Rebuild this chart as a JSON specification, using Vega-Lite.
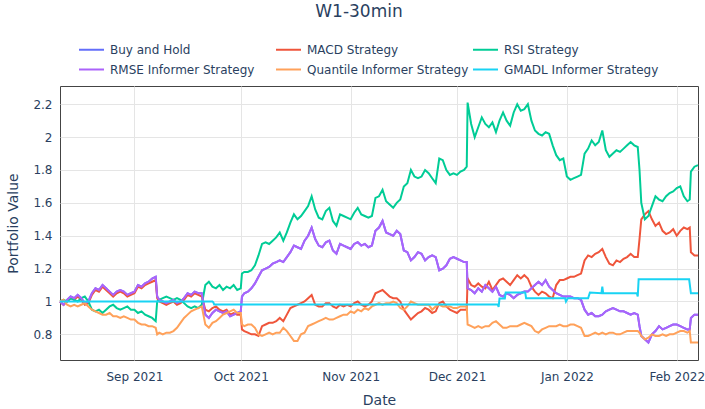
{
"$schema":"https://vega.github.io/schema/vega-lite/v6.json",
"width":638,"height":274,
"autosize":{"type":"none"},
"padding":{"left":60,"top":86,"right":7,"bottom":49},
"background":"white",
"title":{"text":"W1-30min","font":"DejaVu Sans","fontSize":17,"fontWeight":"normal","color":"#2a3f5f","anchor":"middle","frame":"group","dx":-20,"offset":2,"baseline":"alphabetic"},
"config":{
 "view":{"stroke":"#444","strokeWidth":1},
 "axis":{"labelFont":"DejaVu Sans","labelFontSize":12,"labelColor":"#2a3f5f","titleFont":"DejaVu Sans","titleFontSize":14,"titleFontWeight":"normal","titleColor":"#2a3f5f","gridColor":"#e5e5e5","gridWidth":1,"domain":false,"ticks":false,"tickSize":0}
},
"datasets":{
"main":[
{"d":"2021-08-11","b":1.00,"p":1.00,"r":1.00,"g":1.00,"o":1.00},
{"d":"2021-08-12","b":0.98,"p":0.98,"r":0.98,"g":1.01,"o":1.01},
{"d":"2021-08-13","b":1.01,"p":1.01,"r":1.00,"g":1.00,"o":0.98},
{"d":"2021-08-14","b":1.03,"p":1.03,"r":1.02,"g":1.02,"o":0.97},
{"d":"2021-08-15","b":1.02,"p":1.02,"r":1.01,"g":1.01,"o":0.98},
{"d":"2021-08-16","b":1.04,"p":1.04,"r":1.03,"g":1.00,"o":0.97},
{"d":"2021-08-17","b":1.02,"p":1.02,"r":1.01,"g":1.02,"o":0.98},
{"d":"2021-08-18","b":0.99,"p":0.99,"r":0.98,"g":1.03,"o":0.99},
{"d":"2021-08-19","b":1.00,"p":1.00,"r":0.99,"g":1.00,"o":0.97},
{"d":"2021-08-20","b":1.05,"p":1.05,"r":1.04,"g":0.95,"o":0.95},
{"d":"2021-08-21","b":1.08,"p":1.08,"r":1.07,"g":0.94,"o":0.94},
{"d":"2021-08-22","b":1.07,"p":1.07,"r":1.06,"g":0.95,"o":0.93},
{"d":"2021-08-23","b":1.10,"p":1.10,"r":1.09,"g":0.93,"o":0.92},
{"d":"2021-08-24","b":1.08,"p":1.08,"r":1.07,"g":0.95,"o":0.92},
{"d":"2021-08-25","b":1.06,"p":1.06,"r":1.05,"g":0.97,"o":0.93},
{"d":"2021-08-26","b":1.04,"p":1.04,"r":1.03,"g":0.98,"o":0.91},
{"d":"2021-08-27","b":1.06,"p":1.06,"r":1.05,"g":0.96,"o":0.91},
{"d":"2021-08-28","b":1.07,"p":1.07,"r":1.06,"g":0.95,"o":0.90},
{"d":"2021-08-29","b":1.06,"p":1.06,"r":1.05,"g":0.96,"o":0.91},
{"d":"2021-08-30","b":1.04,"p":1.04,"r":1.03,"g":0.97,"o":0.90},
{"d":"2021-08-31","b":1.05,"p":1.05,"r":1.04,"g":0.95,"o":0.89},
{"d":"2021-09-01","b":1.06,"p":1.06,"r":1.05,"g":0.95,"o":0.89},
{"d":"2021-09-02","b":1.10,"p":1.10,"r":1.09,"g":0.93,"o":0.87},
{"d":"2021-09-03","b":1.09,"p":1.09,"r":1.08,"g":0.94,"o":0.86},
{"d":"2021-09-04","b":1.11,"p":1.11,"r":1.10,"g":0.92,"o":0.86},
{"d":"2021-09-05","b":1.12,"p":1.12,"r":1.11,"g":0.91,"o":0.85},
{"d":"2021-09-06","b":1.14,"p":1.14,"r":1.12,"g":0.90,"o":0.85},
{"d":"2021-09-07","b":1.15,"p":1.15,"r":1.13,"g":0.88,"o":0.84},
{"d":"2021-09-07T10:00Z","b":1.03,"p":1.03,"r":1.02,"g":1.00,"o":0.80},
{"d":"2021-09-08","b":1.01,"p":1.01,"r":1.00,"g":1.01,"o":0.81},
{"d":"2021-09-09","b":1.00,"p":1.00,"r":0.99,"g":1.02,"o":0.80},
{"d":"2021-09-10","b":0.99,"p":0.99,"r":0.98,"g":1.03,"o":0.81},
{"d":"2021-09-11","b":1.00,"p":1.00,"r":0.99,"g":1.02,"o":0.81},
{"d":"2021-09-12","b":1.01,"p":1.01,"r":1.00,"g":1.01,"o":0.82},
{"d":"2021-09-13","b":0.99,"p":0.99,"r":0.98,"g":1.02,"o":0.84},
{"d":"2021-09-14","b":1.00,"p":1.00,"r":0.99,"g":1.01,"o":0.87},
{"d":"2021-09-15","b":1.02,"p":1.02,"r":1.01,"g":0.99,"o":0.90},
{"d":"2021-09-16","b":1.05,"p":1.05,"r":1.04,"g":0.97,"o":0.92},
{"d":"2021-09-17","b":1.04,"p":1.04,"r":1.03,"g":0.96,"o":0.94},
{"d":"2021-09-18","b":1.06,"p":1.06,"r":1.05,"g":0.97,"o":0.95},
{"d":"2021-09-19","b":1.05,"p":1.05,"r":1.04,"g":0.96,"o":0.96},
{"d":"2021-09-20","b":1.05,"p":1.05,"r":1.03,"g":0.98,"o":0.97},
{"d":"2021-09-21","b":0.92,"p":0.92,"r":0.95,"g":1.10,"o":0.86},
{"d":"2021-09-22","b":0.90,"p":0.90,"r":0.94,"g":1.12,"o":0.84},
{"d":"2021-09-23","b":0.93,"p":0.93,"r":0.96,"g":1.09,"o":0.87},
{"d":"2021-09-24","b":0.95,"p":0.95,"r":0.97,"g":1.08,"o":0.88},
{"d":"2021-09-25","b":0.94,"p":0.94,"r":0.95,"g":1.10,"o":0.90},
{"d":"2021-09-26","b":0.93,"p":0.93,"r":0.94,"g":1.07,"o":0.92},
{"d":"2021-09-27","b":0.94,"p":0.94,"r":0.95,"g":1.09,"o":0.93},
{"d":"2021-09-28","b":0.91,"p":0.91,"r":0.92,"g":1.08,"o":0.94},
{"d":"2021-09-29","b":0.92,"p":0.92,"r":0.93,"g":1.10,"o":0.95},
{"d":"2021-09-30","b":0.93,"p":0.93,"r":0.92,"g":1.07,"o":0.93},
{"d":"2021-10-01","b":0.94,"p":0.94,"r":0.92,"g":1.08,"o":0.93},
{"d":"2021-10-01T08:00Z","b":1.03,"p":1.03,"r":0.83,"g":1.17,"o":0.86},
{"d":"2021-10-02","b":1.05,"p":1.05,"r":0.82,"g":1.18,"o":0.85},
{"d":"2021-10-03","b":1.06,"p":1.06,"r":0.81,"g":1.18,"o":0.86},
{"d":"2021-10-04","b":1.08,"p":1.08,"r":0.80,"g":1.19,"o":0.86},
{"d":"2021-10-05","b":1.11,"p":1.11,"r":0.80,"g":1.22,"o":0.84},
{"d":"2021-10-06","b":1.15,"p":1.15,"r":0.79,"g":1.28,"o":0.80},
{"d":"2021-10-07","b":1.19,"p":1.19,"r":0.85,"g":1.35,"o":0.79},
{"d":"2021-10-08","b":1.20,"p":1.20,"r":0.86,"g":1.36,"o":0.80},
{"d":"2021-10-09","b":1.21,"p":1.21,"r":0.87,"g":1.35,"o":0.81},
{"d":"2021-10-10","b":1.23,"p":1.23,"r":0.87,"g":1.37,"o":0.80},
{"d":"2021-10-11","b":1.24,"p":1.24,"r":0.88,"g":1.39,"o":0.81},
{"d":"2021-10-12","b":1.25,"p":1.25,"r":0.90,"g":1.42,"o":0.81},
{"d":"2021-10-13","b":1.24,"p":1.24,"r":0.88,"g":1.37,"o":0.84},
{"d":"2021-10-14","b":1.27,"p":1.27,"r":0.92,"g":1.42,"o":0.82},
{"d":"2021-10-15","b":1.30,"p":1.30,"r":0.96,"g":1.48,"o":0.79},
{"d":"2021-10-16","b":1.34,"p":1.34,"r":0.97,"g":1.53,"o":0.76},
{"d":"2021-10-17","b":1.33,"p":1.33,"r":0.98,"g":1.50,"o":0.76},
{"d":"2021-10-18","b":1.32,"p":1.32,"r":0.99,"g":1.52,"o":0.80},
{"d":"2021-10-19","b":1.37,"p":1.37,"r":1.00,"g":1.55,"o":0.81},
{"d":"2021-10-20","b":1.40,"p":1.40,"r":1.02,"g":1.58,"o":0.85},
{"d":"2021-10-21","b":1.45,"p":1.45,"r":1.04,"g":1.64,"o":0.86},
{"d":"2021-10-22","b":1.38,"p":1.38,"r":0.98,"g":1.56,"o":0.87},
{"d":"2021-10-23","b":1.34,"p":1.34,"r":0.97,"g":1.51,"o":0.88},
{"d":"2021-10-24","b":1.33,"p":1.33,"r":0.97,"g":1.50,"o":0.89},
{"d":"2021-10-25","b":1.36,"p":1.36,"r":0.99,"g":1.55,"o":0.90},
{"d":"2021-10-26","b":1.37,"p":1.37,"r":0.99,"g":1.57,"o":0.89},
{"d":"2021-10-27","b":1.31,"p":1.31,"r":0.97,"g":1.49,"o":0.89},
{"d":"2021-10-28","b":1.29,"p":1.29,"r":0.96,"g":1.46,"o":0.90},
{"d":"2021-10-29","b":1.35,"p":1.35,"r":0.98,"g":1.53,"o":0.91},
{"d":"2021-10-30","b":1.34,"p":1.34,"r":0.97,"g":1.52,"o":0.92},
{"d":"2021-10-31","b":1.33,"p":1.33,"r":0.98,"g":1.51,"o":0.92},
{"d":"2021-11-01","b":1.32,"p":1.32,"r":0.97,"g":1.50,"o":0.94},
{"d":"2021-11-02","b":1.35,"p":1.35,"r":0.99,"g":1.54,"o":0.93},
{"d":"2021-11-03","b":1.36,"p":1.36,"r":1.00,"g":1.57,"o":0.95},
{"d":"2021-11-04","b":1.34,"p":1.34,"r":0.98,"g":1.53,"o":0.94},
{"d":"2021-11-05","b":1.35,"p":1.35,"r":0.97,"g":1.52,"o":0.96},
{"d":"2021-11-06","b":1.33,"p":1.33,"r":0.98,"g":1.51,"o":0.95},
{"d":"2021-11-07","b":1.34,"p":1.34,"r":1.00,"g":1.52,"o":0.97},
{"d":"2021-11-08","b":1.43,"p":1.43,"r":1.05,"g":1.63,"o":0.98},
{"d":"2021-11-09","b":1.45,"p":1.45,"r":1.06,"g":1.64,"o":0.99},
{"d":"2021-11-10","b":1.49,"p":1.49,"r":1.07,"g":1.68,"o":0.98},
{"d":"2021-11-11","b":1.42,"p":1.42,"r":1.05,"g":1.61,"o":0.99},
{"d":"2021-11-12","b":1.41,"p":1.41,"r":1.03,"g":1.59,"o":0.99},
{"d":"2021-11-13","b":1.40,"p":1.40,"r":1.02,"g":1.57,"o":1.00},
{"d":"2021-11-14","b":1.43,"p":1.43,"r":1.02,"g":1.60,"o":0.99},
{"d":"2021-11-15","b":1.41,"p":1.41,"r":1.00,"g":1.62,"o":0.96},
{"d":"2021-11-16","b":1.31,"p":1.31,"r":0.95,"g":1.70,"o":0.95},
{"d":"2021-11-17","b":1.30,"p":1.30,"r":0.92,"g":1.72,"o":0.97},
{"d":"2021-11-18","b":1.25,"p":1.25,"r":0.89,"g":1.80,"o":1.00},
{"d":"2021-11-19","b":1.27,"p":1.27,"r":0.91,"g":1.76,"o":0.99},
{"d":"2021-11-20","b":1.30,"p":1.30,"r":0.93,"g":1.75,"o":0.98},
{"d":"2021-11-21","b":1.29,"p":1.29,"r":0.94,"g":1.76,"o":0.98},
{"d":"2021-11-22","b":1.25,"p":1.25,"r":0.96,"g":1.80,"o":0.98},
{"d":"2021-11-23","b":1.27,"p":1.27,"r":0.95,"g":1.78,"o":0.98},
{"d":"2021-11-24","b":1.28,"p":1.28,"r":0.93,"g":1.75,"o":0.95},
{"d":"2021-11-25","b":1.27,"p":1.27,"r":0.94,"g":1.72,"o":0.97},
{"d":"2021-11-26","b":1.19,"p":1.19,"r":0.99,"g":1.87,"o":0.98},
{"d":"2021-11-27","b":1.20,"p":1.20,"r":1.00,"g":1.86,"o":0.97},
{"d":"2021-11-28","b":1.22,"p":1.22,"r":0.97,"g":1.80,"o":0.97},
{"d":"2021-11-29","b":1.26,"p":1.26,"r":0.95,"g":1.77,"o":0.97},
{"d":"2021-11-30","b":1.27,"p":1.27,"r":0.94,"g":1.78,"o":0.96},
{"d":"2021-12-01","b":1.26,"p":1.26,"r":0.93,"g":1.77,"o":0.96},
{"d":"2021-12-02","b":1.25,"p":1.25,"r":0.95,"g":1.79,"o":0.97},
{"d":"2021-12-03","b":1.24,"p":1.24,"r":0.95,"g":1.80,"o":0.97},
{"d":"2021-12-03T18:00Z","b":1.24,"p":1.24,"r":0.95,"g":1.82,"o":0.97},
{"d":"2021-12-04","b":1.08,"p":1.08,"r":1.14,"g":2.21,"o":0.86},
{"d":"2021-12-05","b":1.07,"p":1.07,"r":1.10,"g":2.08,"o":0.85},
{"d":"2021-12-06","b":1.05,"p":1.05,"r":1.09,"g":2.00,"o":0.84},
{"d":"2021-12-07","b":1.08,"p":1.08,"r":1.11,"g":2.06,"o":0.85},
{"d":"2021-12-08","b":1.06,"p":1.06,"r":1.09,"g":2.12,"o":0.84},
{"d":"2021-12-09","b":1.10,"p":1.10,"r":1.08,"g":2.08,"o":0.85},
{"d":"2021-12-10","b":1.08,"p":1.08,"r":1.12,"g":2.06,"o":0.85},
{"d":"2021-12-11","b":1.06,"p":1.06,"r":1.07,"g":2.09,"o":0.87},
{"d":"2021-12-12","b":1.09,"p":1.09,"r":1.10,"g":2.03,"o":0.88},
{"d":"2021-12-13","b":1.04,"p":1.04,"r":1.13,"g":2.10,"o":0.86},
{"d":"2021-12-14","b":1.03,"p":1.03,"r":1.14,"g":2.15,"o":0.84},
{"d":"2021-12-15","b":1.05,"p":1.05,"r":1.12,"g":2.10,"o":0.84},
{"d":"2021-12-16","b":1.04,"p":1.04,"r":1.10,"g":2.07,"o":0.85},
{"d":"2021-12-17","b":1.02,"p":1.02,"r":1.13,"g":2.15,"o":0.85},
{"d":"2021-12-18","b":1.04,"p":1.04,"r":1.16,"g":2.20,"o":0.85},
{"d":"2021-12-19","b":1.05,"p":1.05,"r":1.14,"g":2.16,"o":0.86},
{"d":"2021-12-20","b":1.06,"p":1.06,"r":1.16,"g":2.17,"o":0.87},
{"d":"2021-12-21","b":1.06,"p":1.06,"r":1.14,"g":2.20,"o":0.86},
{"d":"2021-12-22","b":1.08,"p":1.08,"r":1.09,"g":2.10,"o":0.85},
{"d":"2021-12-23","b":1.10,"p":1.10,"r":1.06,"g":2.04,"o":0.82},
{"d":"2021-12-24","b":1.12,"p":1.12,"r":1.04,"g":2.02,"o":0.81},
{"d":"2021-12-25","b":1.10,"p":1.10,"r":1.06,"g":2.01,"o":0.83},
{"d":"2021-12-26","b":1.13,"p":1.13,"r":1.05,"g":2.03,"o":0.84},
{"d":"2021-12-27","b":1.09,"p":1.09,"r":1.03,"g":2.02,"o":0.85},
{"d":"2021-12-28","b":1.07,"p":1.07,"r":1.02,"g":1.95,"o":0.85},
{"d":"2021-12-29","b":1.05,"p":1.05,"r":1.10,"g":1.89,"o":0.85},
{"d":"2021-12-30","b":1.04,"p":1.04,"r":1.13,"g":1.86,"o":0.86},
{"d":"2021-12-31","b":1.03,"p":1.03,"r":1.13,"g":1.87,"o":0.85},
{"d":"2022-01-01","b":1.03,"p":1.03,"r":1.14,"g":1.76,"o":0.85},
{"d":"2022-01-02","b":1.03,"p":1.03,"r":1.15,"g":1.74,"o":0.86},
{"d":"2022-01-03","b":1.02,"p":1.02,"r":1.15,"g":1.75,"o":0.86},
{"d":"2022-01-04","b":1.02,"p":1.02,"r":1.16,"g":1.76,"o":0.85},
{"d":"2022-01-05","b":1.01,"p":1.01,"r":1.17,"g":1.77,"o":0.84},
{"d":"2022-01-06","b":0.95,"p":0.95,"r":1.25,"g":1.90,"o":0.79},
{"d":"2022-01-07","b":0.92,"p":0.92,"r":1.28,"g":1.93,"o":0.79},
{"d":"2022-01-08","b":0.93,"p":0.93,"r":1.27,"g":1.98,"o":0.80},
{"d":"2022-01-09","b":0.91,"p":0.91,"r":1.29,"g":1.95,"o":0.81},
{"d":"2022-01-10","b":0.91,"p":0.91,"r":1.30,"g":1.97,"o":0.80},
{"d":"2022-01-11","b":0.92,"p":0.92,"r":1.32,"g":2.04,"o":0.81},
{"d":"2022-01-12","b":0.94,"p":0.94,"r":1.27,"g":1.92,"o":0.80},
{"d":"2022-01-13","b":0.95,"p":0.95,"r":1.23,"g":1.88,"o":0.81},
{"d":"2022-01-14","b":0.96,"p":0.96,"r":1.22,"g":1.90,"o":0.81},
{"d":"2022-01-15","b":0.95,"p":0.95,"r":1.25,"g":1.92,"o":0.80},
{"d":"2022-01-16","b":0.94,"p":0.94,"r":1.24,"g":1.91,"o":0.80},
{"d":"2022-01-17","b":0.94,"p":0.94,"r":1.26,"g":1.93,"o":0.81},
{"d":"2022-01-18","b":0.93,"p":0.93,"r":1.27,"g":1.95,"o":0.82},
{"d":"2022-01-19","b":0.92,"p":0.92,"r":1.29,"g":1.97,"o":0.82},
{"d":"2022-01-20","b":0.93,"p":0.93,"r":1.27,"g":1.95,"o":0.82},
{"d":"2022-01-21","b":0.92,"p":0.92,"r":1.27,"g":1.94,"o":0.82},
{"d":"2022-01-21T12:00Z","b":0.85,"p":0.85,"r":1.38,"g":1.80,"o":0.81},
{"d":"2022-01-22","b":0.79,"p":0.79,"r":1.50,"g":1.60,"o":0.79},
{"d":"2022-01-23","b":0.77,"p":0.77,"r":1.53,"g":1.50,"o":0.77},
{"d":"2022-01-24","b":0.75,"p":0.75,"r":1.55,"g":1.52,"o":0.78},
{"d":"2022-01-25","b":0.80,"p":0.80,"r":1.50,"g":1.58,"o":0.80},
{"d":"2022-01-26","b":0.82,"p":0.82,"r":1.46,"g":1.64,"o":0.79},
{"d":"2022-01-27","b":0.85,"p":0.85,"r":1.48,"g":1.62,"o":0.79},
{"d":"2022-01-28","b":0.83,"p":0.83,"r":1.43,"g":1.61,"o":0.80},
{"d":"2022-01-29","b":0.84,"p":0.84,"r":1.41,"g":1.64,"o":0.79},
{"d":"2022-01-30","b":0.85,"p":0.85,"r":1.42,"g":1.66,"o":0.80},
{"d":"2022-01-31","b":0.86,"p":0.86,"r":1.44,"g":1.67,"o":0.80},
{"d":"2022-02-01","b":0.86,"p":0.86,"r":1.40,"g":1.69,"o":0.81},
{"d":"2022-02-02","b":0.85,"p":0.85,"r":1.43,"g":1.70,"o":0.82},
{"d":"2022-02-03","b":0.84,"p":0.84,"r":1.45,"g":1.64,"o":0.82},
{"d":"2022-02-04","b":0.83,"p":0.83,"r":1.44,"g":1.61,"o":0.81},
{"d":"2022-02-04T16:00Z","b":0.83,"p":0.83,"r":1.45,"g":1.62,"o":0.82},
{"d":"2022-02-05","b":0.90,"p":0.90,"r":1.30,"g":1.79,"o":0.75},
{"d":"2022-02-06","b":0.92,"p":0.92,"r":1.28,"g":1.82,"o":0.75},
{"d":"2022-02-07","b":0.92,"p":0.92,"r":1.28,"g":1.83,"o":0.75}
],
"gmadl":[
{"d":"2021-08-11","v":1.0},
{"d":"2021-09-23","v":1.0},
{"d":"2021-09-23T06:00Z","v":0.995},
{"d":"2021-09-23T12:00Z","v":0.982},
{"d":"2021-12-12T12:00Z","v":0.982},
{"d":"2021-12-12T18:00Z","v":0.967},
{"d":"2021-12-13","v":1.018},
{"d":"2021-12-14T12:00Z","v":1.018},
{"d":"2021-12-14T18:00Z","v":1.055},
{"d":"2021-12-20T06:00Z","v":1.055},
{"d":"2021-12-20T12:00Z","v":1.02},
{"d":"2021-12-31T12:00Z","v":1.02},
{"d":"2021-12-31T18:00Z","v":1.0},
{"d":"2022-01-01T06:00Z","v":1.02},
{"d":"2022-01-07","v":1.02},
{"d":"2022-01-07T12:00Z","v":1.055},
{"d":"2022-01-10T18:00Z","v":1.05},
{"d":"2022-01-11","v":1.09},
{"d":"2022-01-11T06:00Z","v":1.05},
{"d":"2022-01-20T18:00Z","v":1.05},
{"d":"2022-01-21","v":1.03},
{"d":"2022-01-21T06:00Z","v":1.135},
{"d":"2022-02-04T12:00Z","v":1.135},
{"d":"2022-02-05","v":1.05},
{"d":"2022-02-07","v":1.05}
]
},
"encoding":{
 "x":{"field":"d","type":"temporal","scale":{"type":"utc","domain":["2021-08-11","2022-02-07"]},
  "axis":{"title":"Date","format":"%b %Y","values":[{"year":2021,"month":9,"date":1,"utc":true},{"year":2021,"month":10,"date":1,"utc":true},{"year":2021,"month":11,"date":1,"utc":true},{"year":2021,"month":12,"date":1,"utc":true},{"year":2022,"month":1,"date":1,"utc":true},{"year":2022,"month":2,"date":1,"utc":true}],"labelBaseline":"alphabetic","labelPadding":20,"titleY":44,"titleBaseline":"alphabetic"}},
 "y":{"field":"v","type":"quantitative","scale":{"domain":[0.644,2.311],"nice":false,"zero":false},
  "axis":{"title":"Portfolio Value","values":[0.8,1,1.2,1.4,1.6,1.8,2,2.2],"format":"~g","labelPadding":8,"titleX":-43,"titleBaseline":"alphabetic"}}
},
"layer":[
 {"data":{"name":"main"},
  "transform":[{"fold":["b","r","g","p","o"],"as":["s","v"]}],
  "mark":{"type":"line","strokeWidth":2},
  "encoding":{"color":{"field":"s","type":"nominal",
    "scale":{"domain":["b","r","g","p","o","c"],"range":["#636efa","#EF553B","#00cc96","#ab63fa","#FFA15A","#19d3f3"]},
    "legend":{"orient":"none","legendX":18,"legendY":-50,"direction":"horizontal","columns":3,"gridAlign":"all","columnPadding":0,"rowPadding":-1,"symbolType":"stroke","symbolSize":625,"symbolStrokeWidth":2,"labelOffset":5,"title":null,"padding":0,"labelFont":"DejaVu Sans","labelFontSize":12,"labelColor":"#2a3f5f","labelLimit":0,
     "labelExpr":"datum.value=='b'?'Buy and Hold':datum.value=='r'?'MACD Strategy':datum.value=='g'?'RSI Strategy':datum.value=='p'?'RMSE Informer Strategy':datum.value=='o'?'Quantile Informer Strategy':'GMADL Informer Strategy'"}}}},
 {"data":{"name":"gmadl"},
  "mark":{"type":"line","strokeWidth":2},
  "encoding":{"color":{"datum":"c"}}}
]
}
